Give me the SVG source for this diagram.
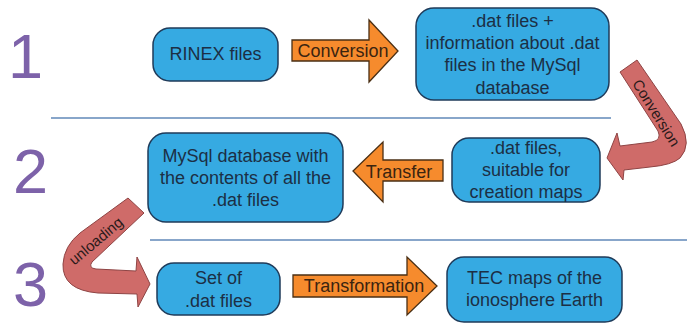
<svg xmlns="http://www.w3.org/2000/svg" width="694" height="325" viewBox="0 0 694 325">
<style>
.num{font-family:"Liberation Sans",Arial,sans-serif;font-size:63px;fill:#7d62a9}
.box rect{fill:#36aae2;stroke:#1f3b5a;stroke-width:1.5}
.box text{font-family:"Liberation Sans",Arial,sans-serif;font-size:18px;fill:#1c2f45;text-anchor:middle}
.oarrow{fill:#f68b2d;stroke:#4a2f14;stroke-width:1.3}
.rarrow{fill:#cf6b69;stroke:#8e4444;stroke-width:1}
.alabel{font-family:"Liberation Sans",Arial,sans-serif;font-size:18px;fill:#3b2410;text-anchor:middle}
.clabel{font-family:"Liberation Sans",Arial,sans-serif;font-size:15px;fill:#2a1a1a;text-anchor:middle}
.sep{stroke:#6088b8;stroke-width:1.5}
</style>
<rect width="694" height="325" fill="#ffffff"/>
<g id="numbers">
<text class="num" x="8" y="78">1</text>
<text class="num" x="13" y="193">2</text>
<text class="num" x="13" y="306">3</text>
</g>
<g id="separators">
<line class="sep" x1="51" y1="118" x2="611" y2="118"/>
<line class="sep" x1="150" y1="240" x2="687" y2="240"/>
</g>
<g id="rinex" class="box">
<rect x="153" y="28" width="125" height="53" rx="17"/>
<text x="215.5" y="60">RINEX files</text>
</g>
<g id="datinfo" class="box">
<rect x="416" y="8" width="193" height="92" rx="18"/>
<text x="512.5" y="27">.dat files +</text>
<text x="512.5" y="49">information about .dat</text>
<text x="512.5" y="71">files in the MySql</text>
<text x="512.5" y="94">database</text>
</g>
<g id="datsuitable" class="box">
<rect x="452" y="138" width="148" height="64" rx="17"/>
<text x="526" y="154">.dat files,</text>
<text x="526" y="176">suitable for</text>
<text x="526" y="198">creation maps</text>
</g>
<g id="mysql" class="box">
<rect x="148" y="133" width="195" height="89" rx="18"/>
<text x="245.5" y="162">MySql database with</text>
<text x="245.5" y="184">the contents of all the</text>
<text x="245.5" y="206">.dat files</text>
</g>
<g id="setof" class="box">
<rect x="157" y="263" width="123" height="52" rx="17"/>
<text x="218.5" y="284">Set of</text>
<text x="218.5" y="307">.dat files</text>
</g>
<g id="tec" class="box">
<rect x="447" y="257" width="175" height="65" rx="17"/>
<text x="534.5" y="284">TEC maps of the</text>
<text x="534.5" y="306">ionosphere Earth</text>
</g>
<g id="connectors">
<path class="oarrow" d="M292 40 L369 40 L369 20 L398 51 L369 82 L369 61 L292 61 Z"/>
<text class="alabel" x="343" y="57">Conversion</text>
<path class="oarrow" d="M443 160 L383 160 L383 142 L353 171 L383 202 L383 181 L443 181 Z"/>
<text class="alabel" x="399" y="178">Transfer</text>
<path class="oarrow" d="M293 275 L407 275 L407 257 L437 286 L407 315 L407 297 L293 297 Z"/>
<text class="alabel" x="364" y="292">Transformation</text>
<path class="rarrow" d="M620 72 L637 60 L681 124 Q692 145 680 158 Q672 165 650 167 L624 170 L623 180 L607 158 L617 133 L620 146 L652 142 Q662 140 658 131 Z"/>
<text class="clabel" transform="translate(656 113) rotate(58)" y="5">Conversion</text>
<path class="rarrow" d="M128 198 L144 213 L92 262 Q88 268 96 269 L136 271 L137 257 L150 284 L138 307 L137 294 L98 293 Q62 290 63 264 Q64 246 80 233 Z"/>
<text class="clabel" transform="translate(96 241) rotate(-40)" y="5">unloading</text>
</g>
</svg>
